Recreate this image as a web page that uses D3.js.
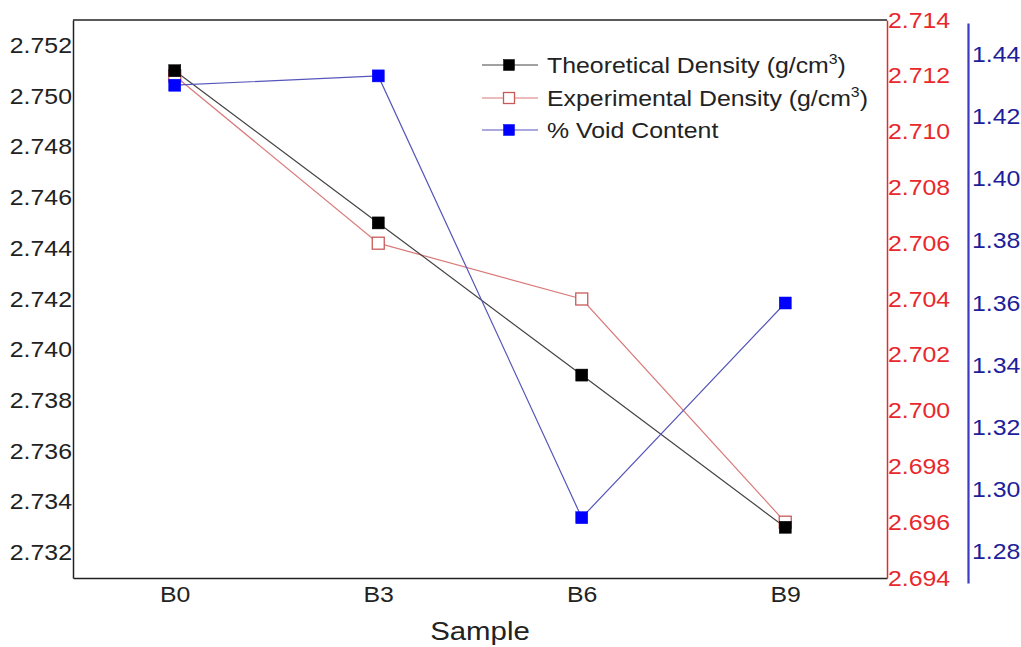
<!DOCTYPE html>
<html>
<head>
<meta charset="utf-8">
<script src="https://cdn.jsdelivr.net/npm/d3@7"></script>
<style>
  html, body { margin: 0; padding: 0; background: #fff; }
  svg { display: block; font-family: "Liberation Sans", Arial, sans-serif; }
</style>
</head>
<body>
<svg id="chart" width="1021" height="647"></svg>
<script>
// ---- data ----
const samples = ["B0", "B3", "B6", "B9"];
const theoreticalDensity = [2.751, 2.745, 2.739, 2.733];
const experimentalDensity = [2.712, 2.706, 2.704, 2.696];
const voidContent = [1.430, 1.433, 1.291, 1.360];
const leftTicks = [2.732, 2.734, 2.736, 2.738, 2.740, 2.742, 2.744, 2.746, 2.748, 2.750, 2.752];
const redTicks = [2.694, 2.696, 2.698, 2.700, 2.702, 2.704, 2.706, 2.708, 2.710, 2.712, 2.714];
const blueTicks = [1.28, 1.30, 1.32, 1.34, 1.36, 1.38, 1.40, 1.42, 1.44];
const legendLabels = ["Theoretical Density (g/cm", "Experimental Density (g/cm", "% Void Content"];

// ---- layout ----
const svg = d3.select("#chart");
const L = 73, R = 887, T = 20, B = 578;
const blueX = 968, blueTop = 23, blueBottom = 583;

const x = d3.scalePoint().domain(samples).range([L, R]).padding(0.5);
const yL = d3.scaleLinear().domain([2.731, 2.753]).range([B, T]);
const yR = d3.scaleLinear().domain([2.694, 2.714]).range([B, T]);
const yB = d3.scaleLinear().domain([1.27, 1.45]).range([blueBottom, blueTop]);

const red = "#e8282c", redLine = "#d97a7a", blue = "#0000ff", blueAxis = "#3b3bc4", blueText = "#1e1e9a";
const FONT = "'Liberation Sans', Arial, sans-serif";

// frame top
svg.append("line").attr("x1", L).attr("x2", R).attr("y1", T).attr("y2", T).attr("stroke", "#222").attr("stroke-width", 1.5);

// left axis
const gL = svg.append("g").attr("transform", `translate(${L},0)`)
  .call(d3.axisLeft(yL).tickValues(leftTicks).tickFormat(d3.format(".3f")).tickSize(0).tickPadding(1));
gL.select(".domain").attr("stroke", "#222").attr("stroke-width", 1.5);
gL.selectAll("text").attr("font-size", 22).attr("fill", "#222").attr("font-family", FONT);

// bottom axis
const gX = svg.append("g").attr("transform", `translate(0,${B})`)
  .call(d3.axisBottom(x).tickSize(0).tickPadding(8));
gX.select(".domain").attr("stroke", "#222").attr("stroke-width", 1.5);
gX.selectAll("text").attr("font-size", 22).attr("fill", "#222").attr("font-family", FONT);

// right red axis
const gR = svg.append("g").attr("transform", `translate(${R},0)`)
  .call(d3.axisRight(yR).tickValues(redTicks).tickFormat(d3.format(".3f")).tickSize(0).tickPadding(1));
gR.select(".domain").attr("stroke", red).attr("stroke-width", 1.5);
gR.selectAll("text").attr("font-size", 22).attr("fill", red).attr("font-family", FONT);

// blue axis
const gB = svg.append("g").attr("transform", `translate(${blueX},0)`)
  .call(d3.axisRight(yB).tickValues(blueTicks).tickFormat(d3.format(".2f")).tickSize(0).tickPadding(4));
gB.select(".domain").attr("stroke", blueAxis).attr("stroke-width", 2.2);
gB.selectAll("text").attr("font-size", 22).attr("fill", blueText).attr("font-family", FONT);

// axis title
svg.append("text").attr("x", (L + R) / 2).attr("y", 640).attr("text-anchor", "middle")
  .attr("font-size", 26).attr("fill", "#222").text("Sample");

// ---- series ----
const series = [
  { vals: experimentalDensity, y: yR, line: redLine, fill: "#fff", stroke: "#c85a5a" },
  { vals: theoreticalDensity, y: yL, line: "#444", fill: "#000", stroke: "#000" },
  { vals: voidContent, y: yB, line: "#5555bb", fill: blue, stroke: blue }
];
const ms = 12;
series.forEach(s => {
  const pts = samples.map((d, i) => [x(d), s.y(s.vals[i])]);
  svg.append("path").attr("d", d3.line()(pts)).attr("fill", "none")
    .attr("stroke", s.line).attr("stroke-width", 1.2);
});
series.forEach(s => {
  svg.append("g").selectAll("rect").data(samples).join("rect")
    .attr("x", (d) => x(d) - ms / 2)
    .attr("y", (d, i) => s.y(s.vals[i]) - ms / 2)
    .attr("width", ms).attr("height", ms)
    .attr("fill", s.fill).attr("stroke", s.stroke).attr("stroke-width", s.fill === "#fff" ? 1.3 : 0.5);
});

// ---- legend ----
const legendItems = [
  { label: legendLabels[0], sup: true, line: "#444", fill: "#000", stroke: "#000" },
  { label: legendLabels[1], sup: true, line: redLine, fill: "#fff", stroke: "#c85a5a" },
  { label: legendLabels[2], sup: false, line: "#5555bb", fill: blue, stroke: blue }
];
const lgY = [65, 98, 130];
legendItems.forEach((it, i) => {
  const g = svg.append("g").attr("transform", `translate(0,${lgY[i]})`);
  g.append("line").attr("x1", 482).attr("x2", 538).attr("y1", 0).attr("y2", 0)
    .attr("stroke", it.line).attr("stroke-width", 1.2);
  g.append("rect").attr("x", 509 - 5.5).attr("y", -5.5).attr("width", 11).attr("height", 11)
    .attr("fill", it.fill).attr("stroke", it.stroke).attr("stroke-width", it.fill === "#fff" ? 1.3 : 0.5);
  const t = g.append("text").attr("x", 547).attr("y", 8).attr("font-size", 22).attr("fill", "#222");
  t.append("tspan").text(it.label);
  if (it.sup) {
    t.append("tspan").attr("font-size", 14).attr("dy", -9).text("3");
    t.append("tspan").attr("dy", 9).text(")");
  }
});

// the reference text is horizontally stretched: widen every label around its anchor
const k = 1.13;
svg.selectAll("text").each(function () {
  const ax = +(this.getAttribute("x") || 0);
  this.setAttribute("transform", `translate(${ax * (1 - k)},0) scale(${k},1)`);
});
</script>
</body>
</html>
